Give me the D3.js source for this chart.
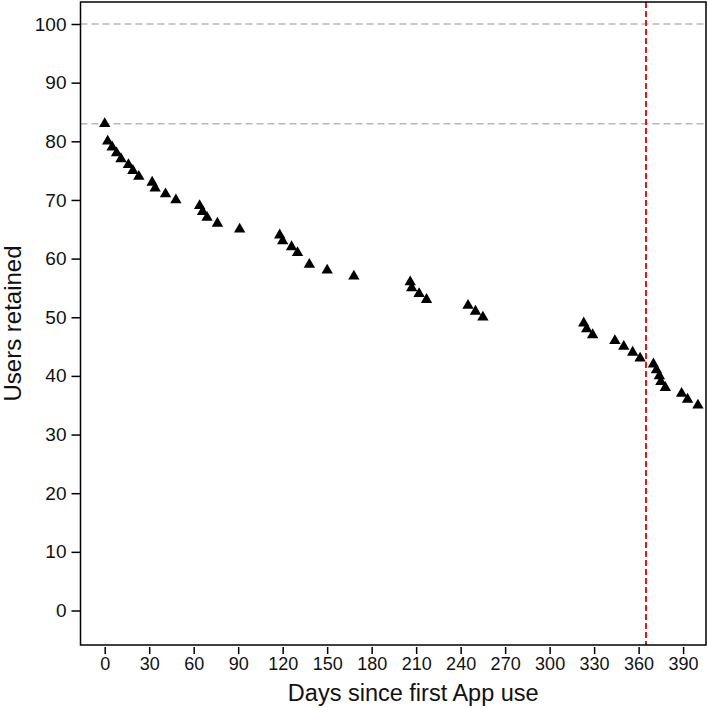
<!DOCTYPE html>
<html>
<head>
<meta charset="utf-8">
<script src="https://cdn.jsdelivr.net/npm/d3@7"></script>
<style>
  html, body { margin: 0; padding: 0; background: #fff; }
  svg { display: block; font-family: "Liberation Sans", Arial, sans-serif; }
</style>
</head>
<body>
<script>
// ---- data ----
const days = [0, 2, 5, 8, 11, 16, 19, 23, 32, 34, 41, 48, 64, 66, 69, 76, 91, 118, 120, 126, 130, 138, 150, 168,
              206, 207, 212, 217, 245, 250, 255, 323, 325, 329, 344, 350, 356, 361, 370, 372, 374, 375, 378, 389, 393, 400];
const users = [83, 80, 79, 78, 77, 76, 75, 74, 73, 72, 71, 70, 69, 68, 67, 66, 65, 64, 63, 62, 61, 59, 58, 57,
               56, 55, 54, 53, 52, 51, 50, 49, 48, 47, 46, 45, 44, 43, 42, 41, 40, 39, 38, 37, 36, 35];
const xTicks = [0, 30, 60, 90, 120, 150, 180, 210, 240, 270, 300, 330, 360, 390];
const yTicks = [0, 10, 20, 30, 40, 50, 60, 70, 80, 90, 100];
const refLines = [100, 83];
const cutoffDay = [365];
const xTitle = "Days since first App use";
const yTitle = "Users retained";

// ---- layout ----
const W = 709, H = 708;
const box = { left: 80.5, right: 706, top: 2, bottom: 645 };

const svg = d3.select("body").append("svg").attr("width", W).attr("height", H);

// scales: calibrated to the reference pixel positions
const x = d3.scaleLinear().domain([0, 390]).range([104.7, 683.1]);
const y = d3.scaleLinear().domain([0, 100]).range([610.5, 24]);

// reference dashed horizontal lines
svg.append("g").selectAll("line").data(refLines).join("line")
  .attr("x1", box.left).attr("x2", box.right)
  .attr("y1", d => y(d)).attr("y2", d => y(d))
  .attr("stroke", "#b8b8b8").attr("stroke-width", 1.5)
  .attr("stroke-dasharray", "7,4");

// points
const pts = days.map((d, i) => ({ d, u: users[i] }));
svg.append("g").selectAll("path").data(pts).join("path")
  .attr("d", d3.symbol().type(d3.symbolTriangle).size(56))
  .attr("transform", p => `translate(${x(p.d)},${y(p.u)})`)
  .attr("fill", "#000");

// red vertical cutoff
svg.append("g").selectAll("line").data(cutoffDay).join("line")
  .attr("x1", d => x(d)).attr("x2", d => x(d))
  .attr("y1", box.top).attr("y2", box.bottom)
  .attr("stroke", "#e8141c").attr("stroke-width", 2)
  .attr("stroke-dasharray", "6,3");

// box
svg.append("rect")
  .attr("x", box.left).attr("y", box.top)
  .attr("width", box.right - box.left).attr("height", box.bottom - box.top)
  .attr("fill", "none").attr("stroke", "#000").attr("stroke-width", 1.5);

// y axis
const yAxis = d3.axisLeft(y).tickValues(yTicks).tickSize(9).tickPadding(5);
const gy = svg.append("g").attr("transform", `translate(${box.left},0)`).call(yAxis);
gy.select(".domain").remove();
gy.selectAll(".tick line").attr("stroke", "#000").attr("stroke-width", 1.5);
gy.selectAll(".tick text").attr("font-size", 19).attr("fill", "#111")
  .attr("font-family", "Liberation Sans, Arial, sans-serif");

// x axis
const xAxis = d3.axisBottom(x).tickValues(xTicks).tickSize(7).tickPadding(3);
const gx = svg.append("g").attr("transform", `translate(0,${box.bottom + 2})`).call(xAxis);
gx.select(".domain").remove();
gx.selectAll(".tick line").attr("stroke", "#000").attr("stroke-width", 1.5);
gx.selectAll(".tick text").attr("font-size", 18).attr("fill", "#111")
  .attr("font-family", "Liberation Sans, Arial, sans-serif");

// titles
svg.append("text")
  .attr("x", (box.left + box.right) / 2 + 20).attr("y", 701)
  .attr("text-anchor", "middle").attr("font-size", 23.5).attr("fill", "#111")
  .text(xTitle);

svg.append("text")
  .attr("transform", `translate(21,${(box.top + box.bottom) / 2}) rotate(-90)`)
  .attr("text-anchor", "middle").attr("font-size", 24).attr("fill", "#111")
  .text(yTitle);
</script>
</body>
</html>
